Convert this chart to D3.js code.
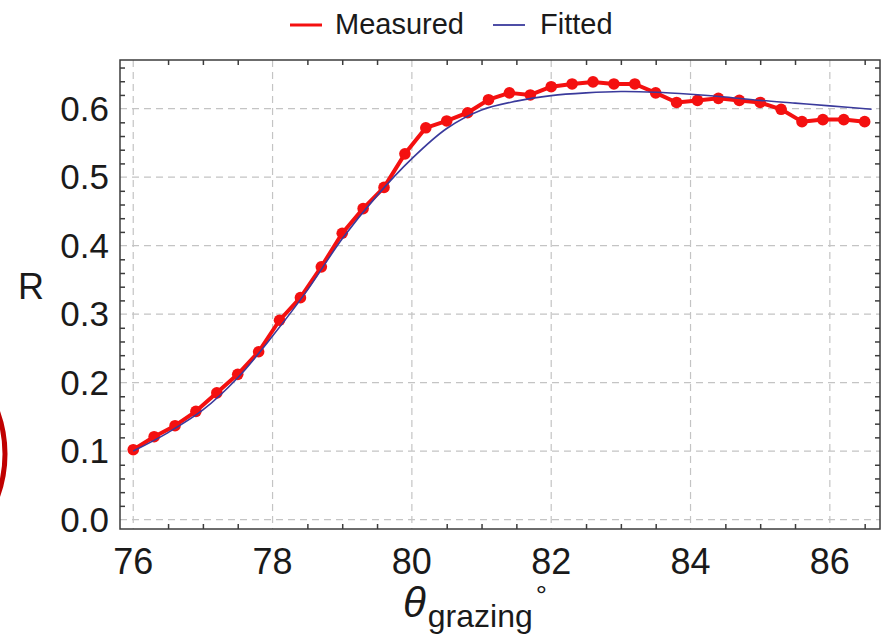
<!DOCTYPE html>
<html>
<head>
<meta charset="utf-8">
<script src="https://cdn.jsdelivr.net/npm/d3@7"></script>
<style>
  body { margin: 0; background: #fff; }
  text { font-family: "Liberation Sans", Arial, sans-serif; fill: #1a1a1a; }
</style>
</head>
<body>
<div id="chart"></div>
<script>
// measured points (grazing angle, reflectance)
const measuredAngle = [76.0, 76.3, 76.6, 76.9, 77.2, 77.5, 77.8, 78.1, 78.4, 78.7, 79.0, 79.3,
    79.6, 79.9, 80.2, 80.5, 80.8, 81.1, 81.4, 81.7, 82.0, 82.3, 82.6, 82.9,
    83.2, 83.5, 83.8, 84.1, 84.4, 84.7, 85.0, 85.3, 85.6, 85.9, 86.2, 86.5];
const measuredR = [0.102, 0.121, 0.137, 0.158, 0.185, 0.212, 0.245, 0.291, 0.324, 0.369, 0.418, 0.454,
    0.485, 0.534, 0.572, 0.582, 0.594, 0.613, 0.623, 0.620, 0.632, 0.636, 0.639, 0.636,
    0.636, 0.623, 0.609, 0.612, 0.615, 0.612, 0.609, 0.599, 0.581, 0.584, 0.584, 0.581];

// fitted curve
const fittedAngle = [76.0, 76.5, 77.0, 77.5, 78.0, 78.5, 79.0, 79.5, 80.0, 80.5, 81.0, 81.5,
    82.0, 82.5, 83.0, 83.5, 84.0, 84.5, 85.0, 85.5, 86.0, 86.6];
const fittedR = [0.100, 0.127, 0.160, 0.207, 0.268, 0.335, 0.410, 0.473, 0.527, 0.571, 0.598, 0.611,
    0.619, 0.623, 0.625, 0.624, 0.621, 0.617, 0.612, 0.608, 0.604, 0.599];

const xTicks = [76, 78, 80, 82, 84, 86];
const yTicks = [0.0, 0.1, 0.2, 0.3, 0.4, 0.5, 0.6];

const width = 890, height = 643;
const plot = { left: 120, right: 880, top: 60, bottom: 529 };

const svg = d3.select("#chart").append("svg")
    .attr("width", width)
    .attr("height", height);

const x = d3.scaleLinear().domain([75.81, 86.72]).range([plot.left, plot.right]);
const y = d3.scaleLinear().domain([-0.0138, 0.671]).range([plot.bottom, plot.top]);

// grid
const grid = svg.append("g").attr("stroke", "#c4c4c4").attr("stroke-width", 1.2)
    .attr("stroke-dasharray", "7,5");
grid.selectAll(".gx").data(xTicks).enter().append("line")
    .attr("x1", d => x(d)).attr("x2", d => x(d))
    .attr("y1", plot.top).attr("y2", plot.bottom);
grid.selectAll(".gy").data(yTicks).enter().append("line")
    .attr("x1", plot.left).attr("x2", plot.right)
    .attr("y1", d => y(d)).attr("y2", d => y(d));

// frame with ticks on all four sides
const xMinor = d3.range(76, 86.75, 0.5).filter(v => !xTicks.includes(v));
const yMinor = d3.range(0, 0.67, 0.02).map(v => +v.toFixed(2)).filter(v => Math.round(v * 100) % 10 !== 0);

const frameColor = "#3c3c3c";
function side(axisGen, scale, major, minor, transform) {
    const g = svg.append("g").attr("transform", transform);
    g.call(axisGen(scale).tickValues(major).tickSize(9).tickFormat(""));
    g.call(axisGen(scale).tickValues(minor).tickSize(5).tickFormat(""));
    g.selectAll(".domain").remove();
    g.selectAll("line").attr("stroke", frameColor).attr("stroke-width", 1.5);
    return g;
}
side(d3.axisTop, x, xTicks, xMinor, "translate(0," + plot.bottom + ")");
side(d3.axisBottom, x, xTicks, xMinor, "translate(0," + plot.top + ")");
side(d3.axisRight, y, yTicks, yMinor, "translate(" + plot.left + ",0)");
side(d3.axisLeft, y, yTicks, yMinor, "translate(" + plot.right + ",0)");

svg.append("rect")
    .attr("x", plot.left).attr("y", plot.top)
    .attr("width", plot.right - plot.left).attr("height", plot.bottom - plot.top)
    .attr("fill", "none").attr("stroke", frameColor).attr("stroke-width", 1.5);

// tick labels
svg.selectAll(".xl").data(xTicks).enter().append("text")
    .attr("x", d => x(d)).attr("y", 574)
    .attr("text-anchor", "middle").attr("font-size", 36)
    .text(d => d);
svg.selectAll(".yl").data(yTicks).enter().append("text")
    .attr("x", 109).attr("y", d => y(d) + 12)
    .attr("text-anchor", "end").attr("font-size", 35)
    .text(d3.format(".1f"));

// axis titles
svg.append("text").attr("x", 18).attr("y", 299).attr("font-size", 36).text("R");
const xt = svg.append("text").attr("x", 403).attr("y", 617);
xt.append("tspan").attr("font-size", 42).attr("font-style", "italic").text("θ");
xt.append("tspan").attr("font-size", 32).attr("dy", 10).attr("dx", 2).text("grazing");
xt.append("tspan").attr("font-size", 28).attr("dy", -22).attr("dx", 3).text("°");

// measured series
const measured = measuredAngle.map((a, i) => [a, measuredR[i]]);
const fitted = fittedAngle.map((a, i) => [a, fittedR[i]]);
const red = "#f41010";

svg.append("path")
    .datum(measured)
    .attr("fill", "none").attr("stroke", red).attr("stroke-width", 4)
    .attr("stroke-linejoin", "round")
    .attr("d", d3.line().x(d => x(d[0])).y(d => y(d[1])));

svg.selectAll(".pt").data(measured).enter().append("circle")
    .attr("cx", d => x(d[0])).attr("cy", d => y(d[1]))
    .attr("r", 5.8).attr("fill", red);

// fitted curve on top
svg.append("path")
    .datum(fitted)
    .attr("fill", "none").attr("stroke", "#3a3a9c").attr("stroke-width", 1.6)
    .attr("d", d3.line().curve(d3.curveCatmullRom).x(d => x(d[0])).y(d => y(d[1])));

// legend
const legend = svg.append("g");
legend.append("line").attr("x1", 290).attr("x2", 322).attr("y1", 25).attr("y2", 25)
    .attr("stroke", red).attr("stroke-width", 3);
legend.append("text").attr("x", 335).attr("y", 34).attr("font-size", 29).text("Measured");
legend.append("line").attr("x1", 493).attr("x2", 525).attr("y1", 25).attr("y2", 25)
    .attr("stroke", "#3a3a9c").attr("stroke-width", 1.8);
legend.append("text").attr("x", 540).attr("y", 34).attr("font-size", 29).text("Fitted");

// partial annotation ring at left edge
svg.append("circle")
    .attr("cx", -120).attr("cy", 454).attr("r", 125)
    .attr("fill", "none").attr("stroke", "#c00000").attr("stroke-width", 5);
</script>
</body>
</html>
